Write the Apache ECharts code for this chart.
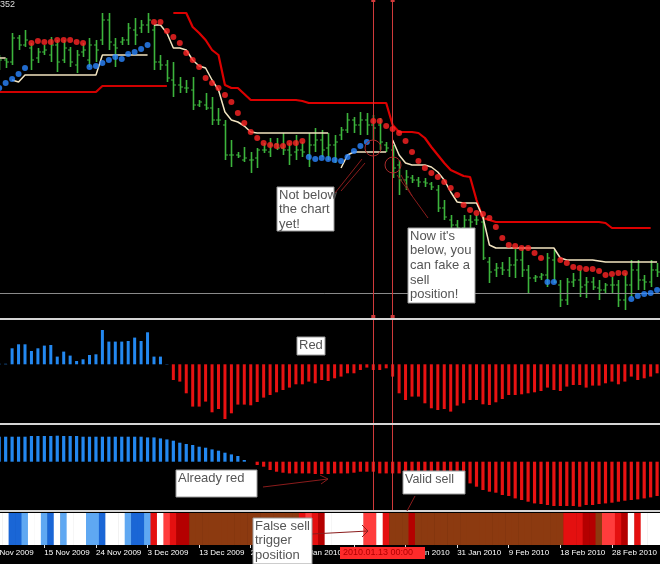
<!DOCTYPE html>
<html><head><meta charset="utf-8">
<script src="https://cdn.jsdelivr.net/npm/echarts@6/dist/echarts.min.js"></script>
<style>html,body{margin:0;padding:0;background:#000;overflow:hidden;width:660px;height:564px;position:relative}#c{position:absolute;left:-11px;top:0;width:672px;height:564px}</style>
</head><body><div id="c"></div>
<script>
// ---- tick labels (one every 8 bars, bar 0 = 5 Nov 2009) ----
const dateLabels = ['5 Nov 2009','15 Nov 2009','24 Nov 2009','3 Dec 2009','13 Dec 2009','22 Dec 2009','3 Jan 2010','12 Jan 2010','21 Jan 2010','31 Jan 2010','9 Feb 2010','18 Feb 2010','28 Feb 2010'];

// ---- price bars (chart units) ----
const highP = [262,265,262,287,285,290,277,272,275,283, 280,280,273,270,277,282,280,307,307,282, 283,297,302,300,307,295,265,260,258,243, 240,243,220,227,223,212,200,180,168,173, 168,172,177,182,182,187,177,185,178,187, 192,190,187,185,193,207,203,208,207,205, 202,178,175,160,150,145,143,142,138,135, 120,105,100,105,105,105,103,63,57,58, 63,73,72,55,45,47,67,70,40,42, 47,50,43,43,40,37,43,40,47,60, 60,45,60,57];
const lowP  = [248,250,252,255,270,273,250,257,265,258, 248,257,253,247,263,253,258,275,270,253, 275,275,275,287,287,250,250,238,223,227, 227,210,213,210,195,195,160,153,162,158, 147,152,167,163,170,165,155,160,163,153, 168,163,160,157,180,187,187,185,185,180, 170,168,142,125,130,137,133,133,130,108, 100,90,83,88,90,95,60,37,43,45, 43,42,43,27,38,40,33,37,13,15, 33,23,22,30,20,27,27,13,10,23, 30,30,33,43];
const openP = [255,252,260,258,282,275,272,262,268,265, 275,260,270,255,268,260,275,280,300,275, 278,280,290,292,295,290,258,255,240,235, 232,230,215,215,212,200,195,165,165,160, 160,162,170,168,176,172,170,168,170,165, 175,180,172,175,185,190,200,195,200,195, 195,175,170,155,140,142,140,138,136,130, 112,100,95,92,100,100,98,58,50,52, 50,55,60,50,42,43,45,60,35,20, 38,40,35,38,32,30,35,35,20,35, 50,40,38,50];
const closeP= [252,260,258,282,275,280,260,268,270,275, 258,272,258,265,270,275,270,300,278,272, 280,292,285,295,300,258,255,242,235,233, 232,215,218,212,200,200,165,165,164,162, 160,170,170,175,172,170,165,170,168,175, 180,170,175,178,190,200,195,200,195,192, 178,172,152,140,143,140,138,137,133,112, 103,95,92,100,98,100,62,48,52,50, 55,60,50,42,43,45,62,38,20,38, 40,33,38,33,30,35,35,20,35,50, 40,38,50,48];
const bidPrice = 27;

// ---- trailing stop lines (start bar + values) ----
const stopLowStart = 0;
const stopLow = [228,228,228,228,228,228,228,228,228,228,228,228,228,228,228,228,228, 234,234,234,234,234,234,234,234,234,234,234];
const stopHighStart = 28;
const stopHigh = [307,307,307,293,287,280,270,265,235,232, 232,226,220,220,220,220,220,220,220,220, 219,217,217,217,217,217,217,217,217,217, 217,217,217,217,195,188,188,188,187,182, 173,165,157,150,147,144,143,120,102,100, 98,98,98,98,98,98,98,98,98,98, 98,98,98,98,98,98,98,97,92,92, 92,92,92,92,92];

// ---- trend line segments ----
const trendA = {start:0,  vals:[262,262,262]};
const trendB = {start:3,  vals:[240,238,245,245,245,245,245,245,245,245,245,245,245,245,265,265,265,265,265,265,265,265]};
const trendC = {start:25, vals:[295,295,287,272,272,270,260,254,252,240,230,208,200,198,194,188,187,187,187,187,187,187,187,187,187,187,187,187]};
const trendD = {start:54, vals:[152,165,168,168,168,168,168,168]};
const trendE = {start:62, vals:[180,165,157,155,155,155,153,148,140,128,118,117,117,117,103,75,72,72,72,72,72,72,72,72,72,72,62,60,60,60,60,60,59,58,58,58,58,58,58,58,58,58]};

// ---- stop dots [bar, level] ----
const dotsRed = [[6,277],[7,279],[8,278],[9,278],[10,280],[11,280],[12,280],[13,278],[14,277],
 [25,298],[26,298],[27,289],[28,283],[29,277],[30,267],[31,260],[32,253],[33,242],[34,237],[35,232],[36,225],[37,218],[38,207],[39,197],[40,188],[41,182],[42,177],[43,175],[44,174],[45,174],[46,177],[47,177],[48,179],
 [59,199],[60,199],[61,194],[62,191],[63,187],[64,179],[65,168],[66,159],[67,152],[68,147],[69,143],[70,138],[71,132],[72,125],[73,115],[74,110],[75,107],[76,106],[77,102],[78,93],[79,82],[80,75],[81,74],[82,72],[83,72],[84,67],[85,62],
 [88,60],[89,57],[90,53],[91,52],[92,51],[93,51],[94,49],[95,45],[96,46],[97,47],[98,47]];
const dotsBlue = [[1,232],[2,237],[3,241],[4,246],[5,252],[15,253],[16,254],[17,257],[18,260],[19,263],[20,261],[21,266],[22,268],[23,271],[24,275],
 [49,163],[50,161],[51,162],[52,161],[53,160],[54,159],[55,163],[56,169],[57,174],[58,178],[86,38],[87,38],[99,21],[100,24],[101,26],[102,27],[103,30]];

// ---- histogram 1 ----
const hist1 = [0,0.5,0.5,16,20,20,13.3,16,18.7,19.3, 7.7,12.7,8.7,3.3,5,9.3,10,34.3,22.7,22.7, 22.7,23.3,26.7,23.3,32,7.7,7.7,0.3,-15.7,-17.3, -29,-42.3,-42.3,-37.3,-48,-44.7,-54.7,-49,-40.3,-40.3, -41,-37.7,-33.3,-30.7,-28,-25.7,-23.3,-20,-20,-17.3, -19,-15.7,-16.7,-14,-12.3,-9,-9,-5.7,-3.3,-5.7, -5.7,-4,-12.3,-29,-35.7,-32.3,-32.3,-39,-44,-45.7, -44.7,-47.3,-41.3,-39,-35.7,-35.7,-40,-40.7,-38,-34.7, -30.7,-30.7,-30,-29,-28,-26.7,-23.3,-25.7,-26.7,-22.3, -20.7,-20.7,-23.3,-21.3,-21.3,-19,-17.3,-20,-17.3,-12.3, -15.7,-14,-12.3,-9];
// ---- histogram 2 ----
const hist2 = [25,25,25,25,25,25,25.7,25.7,25.7,25.7, 26,25.7,25.7,25.7,25,25,25,25,25,25, 25,25,25,25,24.3,24.3,23.3,22.3,21,19, 17.7,16.7,15,14,12.3,11,9,7.3,5.7,1.7, 0,-3.3,-5,-8.3,-10,-11,-11.7,-11.7,-11.7,-11.7, -12.3,-12.3,-12.3,-11.7,-11.7,-11.7,-11,-10,-10,-10, -11.7,-11.7,-11.7,-11.7,-11.7,-11.7,-11.7,-11.7,-11.7,-11.7, -11.7,-12.3,-13.3,-16.7,-21.7,-25,-28.3,-30,-31,-33.3, -34.3,-36.7,-38.3,-40,-41.7,-42.3,-43.3,-44.3,-44.3,-44.3, -44.3,-45,-43.3,-43.3,-42.3,-41.7,-41,-40,-39,-38.3, -37.7,-36.7,-35.7,-34.3];
// ---- state strip ----
const strip = ['W','W','W','B','B','LB','W','W','LB','B', 'W','LB','W','W','W','LB','LB','B','W','W', 'W','LB','B','B','LB','R','W','BR','R','DR', 'DR','BN','BN','BN','BN','BN','BN','BN','BN','BN', 'BN','BN','BN','BN','BN','BN','BN','BN','R','BR', 'R','DR','W','W','W','W','W','W','BR','BR', 'W','R','BN','BN','BN','DR','BN','BN','BN','BN', 'BN','BN','BN','BN','BN','BN','BN','BN','BN','BN', 'BN','BN','BN','BN','BN','BN','BN','BN','BN','R', 'R','R','DR','DR','BN','BR','BR','R','DR','W', 'R','W','W','W'];
const stripColors = {W:'#ffffff', B:'#1a66d6', LB:'#5fa8f2', R:'#e41010', BR:'#ff3c3c', DR:'#b40000', BN:'#8c3a10'};
const signalBars = [59, 62];

const cats = highP.map((_, i) => String(i));
const GREEN = '#3cb43c';
const VLINE = '#d03a3a';
const OX = 11; // container is shifted 11px left so the first bar sits partly off-screen
const gridPos = {left: 0.525, width: 670.8};

const chart = echarts.init(document.getElementById('c'), null, {renderer: 'canvas'});

function seg(s) { return s.vals.map((v, k) => [s.start + k, v]); }
function xAx(gi, show) {
  return {type:'category', data:cats, gridIndex:gi, boundaryGap:true,
    axisLine:{show:false}, splitLine:{show:false},
    axisTick: show ? {show:true, alignWithLabel:true, interval:7, length:3, lineStyle:{color:'#dddddd'}} : {show:false},
    axisLabel: show ? {show:true, interval:7, align:'left', margin:4, color:'#ffffff',
      fontFamily:'Liberation Sans', fontSize:8, formatter:(v, i) => dateLabels[i / 8] || ''} : {show:false}};
}
function yAx(gi, min, max) {
  return {type:'value', gridIndex:gi, min, max, show:false, splitLine:{show:false}};
}
const vLines = signalBars.map(b => ({xAxis: b}));
const histColor = p => p.value >= 0 ? '#2388f0' : '#e81212';

const option = {
  backgroundColor:'#000000',
  animation:false,
  grid:[
    Object.assign({top:0, height:317}, gridPos),
    Object.assign({top:320, height:103}, gridPos),
    Object.assign({top:425, height:85}, gridPos),
    Object.assign({top:513, height:32}, gridPos)
  ],
  xAxis:[xAx(0,false), xAx(1,false), xAx(2,false), xAx(3,true)],
  yAxis:[yAx(0,3,320), yAx(1,-58.7,44.3), yAx(2,-48.3,36.7), yAx(3,0,1)],
  series:[
    {type:'line', xAxisIndex:0, yAxisIndex:0, data:stopLow.map((v,k)=>[stopLowStart+k, v]), symbol:'none',
      lineStyle:{color:'#d00000', width:2.2}, z:2,
      markLine:{silent:true, symbol:'none', label:{show:false}, lineStyle:{color:'#8a8a8a', width:1, type:'solid'}, data:[{yAxis:bidPrice}]}},
    {type:'line', xAxisIndex:0, yAxisIndex:0, data:stopHigh.map((v,k)=>[stopHighStart+k, v]), symbol:'none',
      lineStyle:{color:'#dc0000', width:2.2}, z:2},
    {type:'custom', xAxisIndex:0, yAxisIndex:0, z:3,
      data: highP.map((h,i)=>[i, openP[i], h, lowP[i], closeP[i]]),
      encode:{x:0, y:[1,2,3,4]},
      renderItem:(params, api) => {
        const i = api.value(0);
        const o = api.coord([i, api.value(1)]), h = api.coord([i, api.value(2)]);
        const l = api.coord([i, api.value(3)]), c = api.coord([i, api.value(4)]);
        const x = Math.round(h[0]) + 0.5, st = {stroke:GREEN, lineWidth:1.6};
        return {type:'group', children:[
          {type:'line', shape:{x1:x, y1:h[1], x2:x, y2:l[1]}, style:st},
          {type:'line', shape:{x1:x-2.5, y1:o[1], x2:x, y2:o[1]}, style:{stroke:GREEN, lineWidth:1}},
          {type:'line', shape:{x1:x, y1:c[1], x2:x+2.5, y2:c[1]}, style:{stroke:GREEN, lineWidth:1}}
        ]};
      },
      markLine:{silent:true, symbol:['rect','rect'], symbolSize:4, label:{show:false},
        lineStyle:{color:VLINE, width:1, type:'solid'}, data:vLines}},
    ...[trendA, trendB, trendC, trendD, trendE].map(s => ({type:'line', xAxisIndex:0, yAxisIndex:0, data:seg(s),
      symbol:'none', lineStyle:{color:'#f2e4c0', width:1.5}, z:4})),
    {type:'scatter', xAxisIndex:0, yAxisIndex:0, data:dotsRed, symbolSize:6, itemStyle:{color:'#ff2424'}, z:5},
    {type:'scatter', xAxisIndex:0, yAxisIndex:0, data:dotsBlue, symbolSize:6, itemStyle:{color:'#2a86ff'}, z:5},
    {type:'bar', xAxisIndex:1, yAxisIndex:1, data:hist1, barWidth:3, itemStyle:{color:histColor},
      markLine:{silent:true, symbol:'none', label:{show:false}, lineStyle:{color:VLINE, width:1, type:'solid'}, data:vLines}},
    {type:'bar', xAxisIndex:2, yAxisIndex:2, data:hist2, barWidth:3.2, itemStyle:{color:histColor},
      markLine:{silent:true, symbol:'none', label:{show:false}, lineStyle:{color:VLINE, width:1, type:'solid'}, data:vLines}},
    {type:'bar', xAxisIndex:3, yAxisIndex:3, barWidth:7,
      data: strip.map(s => ({value:1, itemStyle:{color:stripColors[s]}}))}
  ],
  graphic:{elements:[]}
};

// ---- annotations / decorations (screen layout, shifted by OX into the container) ----
const G = [];
const sep = y => G.push({type:'rect', shape:{x:0, y, width:660, height:2}, style:{fill:'#d4d4d4'}, z:40});
sep(318); sep(423); sep(510);
function box(x, y, w, h, text, fs, lh) {
  G.push({type:'rect', shape:{x, y, width:w, height:h}, style:{fill:'#ffffff', stroke:'#9a9a9a', lineWidth:1}, z:60});
  G.push({type:'text', x:x+2, y:y+1, style:{text, fill:'#555555', font:fs+'px "Liberation Sans", Arial, sans-serif', lineHeight:lh, verticalAlign:'top'}, z:61});
}
const AR = '#8b1c1c';
const ln = (x1,y1,x2,y2,c) => G.push({type:'line', shape:{x1,y1,x2,y2}, style:{stroke:c||AR, lineWidth:1}, z:55});
G.push({type:'circle', shape:{cx:373, cy:148, r:8}, style:{fill:'none', stroke:'#a82a2a', lineWidth:1}, z:55});
G.push({type:'circle', shape:{cx:393, cy:165, r:8}, style:{fill:'none', stroke:'#a82a2a', lineWidth:1}, z:55});
ln(335,193,362,159); ln(341,191,365,163);
ln(397,175,428,218); ln(401,175,412,196);
ln(263,487,328,479); ln(328,479,320,475); ln(328,479,321,484);
ln(415,496,407,511);
ln(312,534,368,531); ln(368,531,362,525); ln(368,531,362,537);
box(277,187,57,44,'Not below\nthe chart\nyet!',13,14.5);
box(408,228,67,75,"Now it's\nbelow, you\ncan fake a\nsell\nposition!",13,14.6);
box(297,337,28,18,'Red',13,15);
box(176,470,81,27,'Already red',13,15);
box(403,471,62,23,'Valid sell',12.5,15);
box(253,518,59,46,'False sell\ntrigger\nposition',13,14.5);
G.push({type:'rect', shape:{x:340, y:547, width:85, height:12}, style:{fill:'#ff2a2a'}, z:60});
G.push({type:'text', x:343, y:548, style:{text:'2010.01.13 00:00', fill:'#b00000', font:'9px "Liberation Sans", Arial, sans-serif', verticalAlign:'top'}, z:61});
G.push({type:'text', x:0, y:0, style:{text:'352', fill:'#dddddd', font:'9px "Liberation Sans", Arial, sans-serif', verticalAlign:'top'}, z:61});
option.graphic.elements = [{type:'group', x:OX, y:0, z:50, children:G}];

chart.setOption(option);
</script></body></html>
